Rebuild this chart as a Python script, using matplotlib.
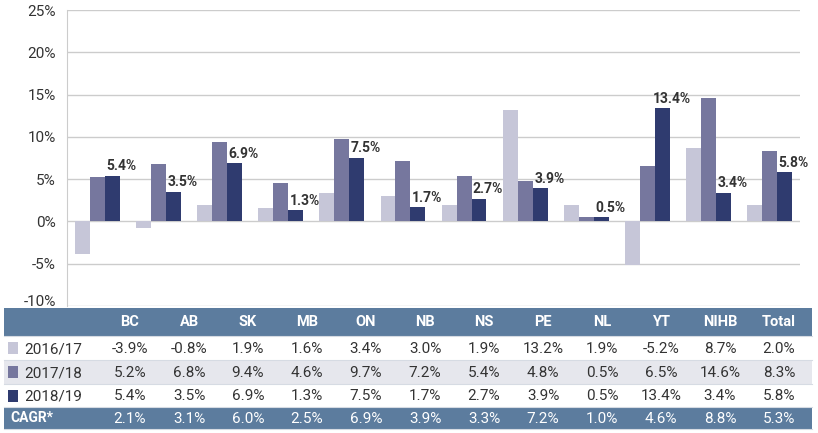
import numpy as np
import matplotlib.pyplot as plt
from matplotlib.patches import Rectangle
from matplotlib.transforms import ScaledTranslation
from matplotlib import font_manager

# Data
regions = ["BC", "AB", "SK", "MB", "ON", "NB", "NS", "PE", "NL", "YT", "NIHB", "Total"]
years = ["2016/17", "2017/18", "2018/19"]
g1617 = [-3.9, -0.8, 1.9, 1.6, 3.4, 3.0, 1.9, 13.2, 1.9, -5.2, 8.7, 2.0]
g1718 = [5.2, 6.8, 9.4, 4.6, 9.7, 7.2, 5.4, 4.8, 0.5, 6.5, 14.6, 8.3]
g1819 = [5.4, 3.5, 6.9, 1.3, 7.5, 1.7, 2.7, 3.9, 0.5, 13.4, 3.4, 5.8]
cagr = [2.1, 3.1, 6.0, 2.5, 6.9, 3.9, 3.3, 7.2, 1.0, 4.6, 8.8, 5.3]

colors = ["#c6c6d8", "#76779e", "#2f3b6f"]
header_blue = "#5c7c9e"
text_col = "#333333"

names = {f.name for f in font_manager.fontManager.ttflist}
cond = "Liberation Sans Narrow" if "Liberation Sans Narrow" in names else "Roboto"
plt.rcParams["font.family"] = [cond, "DejaVu Sans"]

W, H = 818, 433
fig = plt.figure(figsize=(W / 100, H / 100), dpi=100)
ax = fig.add_axes([67 / W, 1 - 306 / H, (800 - 67) / W, (306 - 10) / H])

x = np.arange(len(regions))
bw = 0.245
series = [g1617, g1718, g1819]
for i, vals in enumerate(series):
    ax.bar(x + (i - 1) * bw, vals, bw, color=colors[i], zorder=3)

# value labels sit just right of the 2018/19 bar centre
for xi, v in zip(x, g1819):
    ax.text(xi + bw + 0.15, v + 0.3, f"{v:.1f}%", ha="center", va="bottom",
            fontsize=10, fontweight="bold", color=text_col, zorder=4)

ax.set_xlim(-0.5, len(regions) - 0.5)
ax.set_ylim(-10, 25)
ax.set_yticks(np.arange(-10, 26, 5))
ax.set_yticklabels([f"{t}%" for t in range(-10, 26, 5)], fontsize=11, color=text_col)
ax.set_xticks([])
ax.grid(axis="y", color="#cccccc", linewidth=1, zorder=0)
for s in ["top", "right", "bottom"]:
    ax.spines[s].set_visible(False)
ax.spines["left"].set_color("#cccccc")
ax.tick_params(axis="y", length=0, pad=8)
# lift the bottom label so the table doesn't hide it
lab = ax.get_yticklabels()[0]
lab.set_transform(lab.get_transform() + ScaledTranslation(0, 5 / 100, fig.dpi_scale_trans))

# Data table below the chart, in pixel coordinates
tab = fig.add_axes([0, 0, 1, 1], zorder=5)
tab.set_xlim(0, W)
tab.set_ylim(H, 0)
tab.axis("off")

left, right = 4, 812
rows_y = [(308, 336), (336, 360), (360, 384), (384, 407), (407, 429)]
fills = [header_blue, "white", "#e6e7ed", "white", header_blue]
for (y0, y1), fc in zip(rows_y, fills):
    tab.add_patch(Rectangle((left, y0), right - left, y1 - y0, facecolor=fc,
                            edgecolor="none"))
    tab.plot([left, right], [y1, y1], color="#d6dbe3", lw=0.8)

col_x = np.linspace(130, 779, len(regions))
ymid = [(a + b) / 2 for a, b in rows_y]
for cx, r in zip(col_x, regions):
    tab.text(cx, ymid[0], r, ha="center", va="center", color="white",
             fontsize=10.5, fontweight="bold")

for k, (yr, vals) in enumerate(zip(years, series)):
    yc = ymid[k + 1]
    tab.add_patch(Rectangle((8, yc - 6), 10, 12, facecolor=colors[k], edgecolor="none"))
    tab.text(24, yc + 1, yr, ha="left", va="center", color=text_col, fontsize=11)
    for cx, v in zip(col_x, vals):
        tab.text(cx, yc + 1, f"{v:.1f}%", ha="center", va="center",
                 color=text_col, fontsize=11)

tab.text(10, ymid[4], "CAGR*", ha="left", va="center", color="white",
         fontsize=10, fontweight="bold")
for cx, v in zip(col_x, cagr):
    tab.text(cx, ymid[4] + 1, f"{v:.1f}%", ha="center", va="center",
             color="white", fontsize=11)

fig.savefig("out.png", dpi=100, facecolor="white")
